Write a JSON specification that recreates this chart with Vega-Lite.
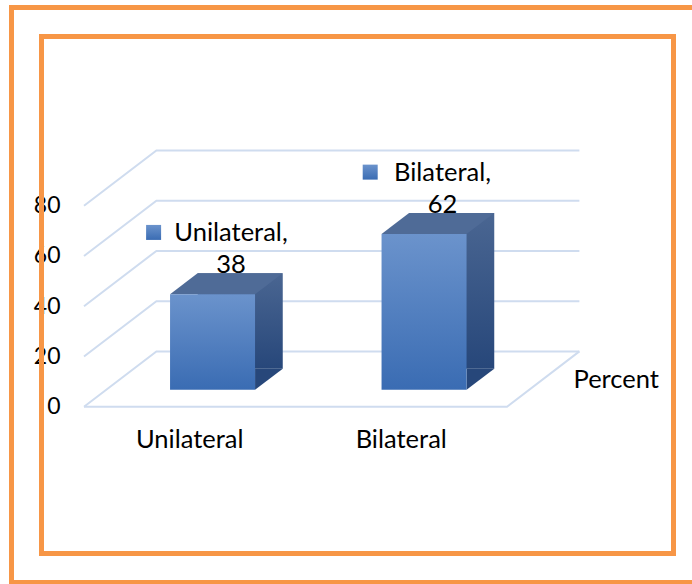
{
  "$schema": "https://vega.github.io/schema/vega-lite/v6.json",
  "width": 632,
  "height": 517,
  "autosize": {"type": "none"},
  "padding": {"left": 41.5, "top": 36.5, "right": 18.5, "bottom": 30.5},
  "background": "white",
  "config": {
    "font": "Lato",
    "view": {"stroke": null},
    "axis": {"labelColor": "#000000", "titleColor": "#000000", "labelFont": "Lato", "titleFont": "Lato"}
  },
  "datasets": {
    "sides": [
      {"side": "Unilateral", "percent": 38},
      {"side": "Bilateral", "percent": 62}
    ],
    "ticks": [
      {"tick": 0}, {"tick": 20}, {"tick": 40}, {"tick": 60}, {"tick": 80}
    ]
  },
  "layer": [
    {
      "description": "outer frame, drawn around the centre of the plot",
      "data": {"values": [{}]},
      "mark": {"type": "point", "shape": "M-346,-287.5H342.5V287.5H-346Z", "size": 4,
               "filled": false, "color": "#F79646", "strokeWidth": 5, "opacity": 1},
      "encoding": {}
    },
    {
      "description": "back wall and side wall gridlines",
      "data": {"name": "ticks"},
      "mark": {"type": "point", "shape": "M-273.5,0L-201.1,-55.3L221.9,-55.3", "size": 4,
               "filled": false, "color": "#CFDCEF", "strokeWidth": 2, "opacity": 1},
      "encoding": {
        "y": {"field": "tick", "type": "quantitative",
              "scale": {"domain": [0, 80], "range": [370.2, 169.2], "nice": false, "zero": true},
              "axis": {"values": [0, 20, 40, 60, 80], "title": null, "grid": false, "domain": false,
                       "ticks": false, "tickSize": 0, "labelPadding": -18.5, "labelFontSize": 23}}
      }
    },
    {
      "description": "floor outline",
      "data": {"values": [{"tick": 0}]},
      "mark": {"type": "point", "shape": "M-273.5,0L149.5,0L221.9,-55.3", "size": 4,
               "filled": false, "color": "#CFDCEF", "strokeWidth": 2, "opacity": 1},
      "encoding": {"y": {"field": "tick", "type": "quantitative"}}
    },
    {
      "description": "bar depth (side face)",
      "data": {"name": "sides"},
      "mark": {"type": "bar", "width": 85, "xOffset": 50.5, "yOffset": -38, "y2Offset": -38,
               "color": {"gradient": "linear", "x1": 0, "y1": 0, "x2": 0, "y2": 1,
                         "stops": [{"offset": 0, "color": "#4A6692"}, {"offset": 1, "color": "#27477A"}]}},
      "encoding": {
        "x": {"field": "side", "type": "nominal", "sort": null,
              "scale": {"range": [42.5, 465.5], "paddingInner": 0, "paddingOuter": 0},
              "axis": {"title": "Percent", "offset": -146.8, "domain": false, "ticks": false, "tickSize": 0,
                       "labelPadding": 40.8, "labelBaseline": "alphabetic", "labelAngle": 0, "labelFontSize": 25.5,
                       "titleX": 531.5, "titleY": -19.7, "titleAlign": "left", "titleBaseline": "alphabetic",
                       "titleFontWeight": "normal", "titleFontSize": 25.5, "titleAnchor": null}},
        "y": {"field": "percent", "type": "quantitative"}
      }
    },
    {
      "description": "side face lower corner",
      "data": {"name": "sides"},
      "mark": {"type": "point", "shape": "M65.3,-17L65.3,-38L93,-38Z", "size": 4, "filled": true,
               "color": "#27477A", "strokeWidth": 0, "opacity": 1},
      "encoding": {
        "x": {"field": "side", "type": "nominal", "sort": null},
        "y": {"datum": 0, "type": "quantitative"}
      }
    },
    {
      "description": "bar top face",
      "data": {"name": "sides"},
      "mark": {"type": "point", "shape": "M-19.7,-17L65.3,-17L93,-38L7.8,-38Z", "size": 4, "filled": true,
               "color": "#4F6B97", "strokeWidth": 0, "opacity": 1},
      "encoding": {
        "x": {"field": "side", "type": "nominal", "sort": null},
        "y": {"field": "percent", "type": "quantitative"}
      }
    },
    {
      "description": "bar front face",
      "data": {"name": "sides"},
      "mark": {"type": "bar", "width": 85, "xOffset": 22.8, "yOffset": -17, "y2Offset": -17,
               "color": {"gradient": "linear", "x1": 0, "y1": 0, "x2": 0, "y2": 1,
                         "stops": [{"offset": 0, "color": "#6B93CC"}, {"offset": 1, "color": "#3A6CB3"}]}},
      "encoding": {
        "x": {"field": "side", "type": "nominal", "sort": null},
        "y": {"field": "percent", "type": "quantitative"}
      }
    },
    {
      "description": "legend key in the data label",
      "data": {"name": "sides"},
      "mark": {"type": "point", "shape": "square", "size": 225, "filled": true, "opacity": 1, "strokeWidth": 0,
               "xOffset": {"expr": "41.25 - length(datum.side + ',') * 5.1 - 21.3"}, "yOffset": -78.8,
               "color": {"gradient": "linear", "x1": 0, "y1": 0, "x2": 0, "y2": 1,
                         "stops": [{"offset": 0, "color": "#6B93CC"}, {"offset": 1, "color": "#3A6CB3"}]}},
      "encoding": {
        "x": {"field": "side", "type": "nominal", "sort": null},
        "y": {"field": "percent", "type": "quantitative"}
      }
    },
    {
      "description": "data label: category name",
      "data": {"name": "sides"},
      "mark": {"type": "text", "text": {"expr": "datum.side + ','"}, "align": "center", "baseline": "alphabetic",
               "xOffset": 41.25, "yOffset": -70.3, "fontSize": 25.5, "color": "#000000"},
      "encoding": {
        "x": {"field": "side", "type": "nominal", "sort": null},
        "y": {"field": "percent", "type": "quantitative"}
      }
    },
    {
      "description": "data label: value",
      "data": {"name": "sides"},
      "mark": {"type": "text", "align": "center", "baseline": "alphabetic",
               "xOffset": 41.25, "yOffset": -38.3, "fontSize": 25.5, "color": "#000000"},
      "encoding": {
        "x": {"field": "side", "type": "nominal", "sort": null},
        "y": {"field": "percent", "type": "quantitative"},
        "text": {"field": "percent", "type": "quantitative"}
      }
    },
    {
      "description": "inner frame, drawn last so it sits over the value labels",
      "data": {"values": [{}]},
      "mark": {"type": "point", "shape": "M-316,-258.5H316V258.5H-316Z", "size": 4,
               "filled": false, "color": "#F79646", "strokeWidth": 5, "opacity": 1},
      "encoding": {}
    }
  ]
}
